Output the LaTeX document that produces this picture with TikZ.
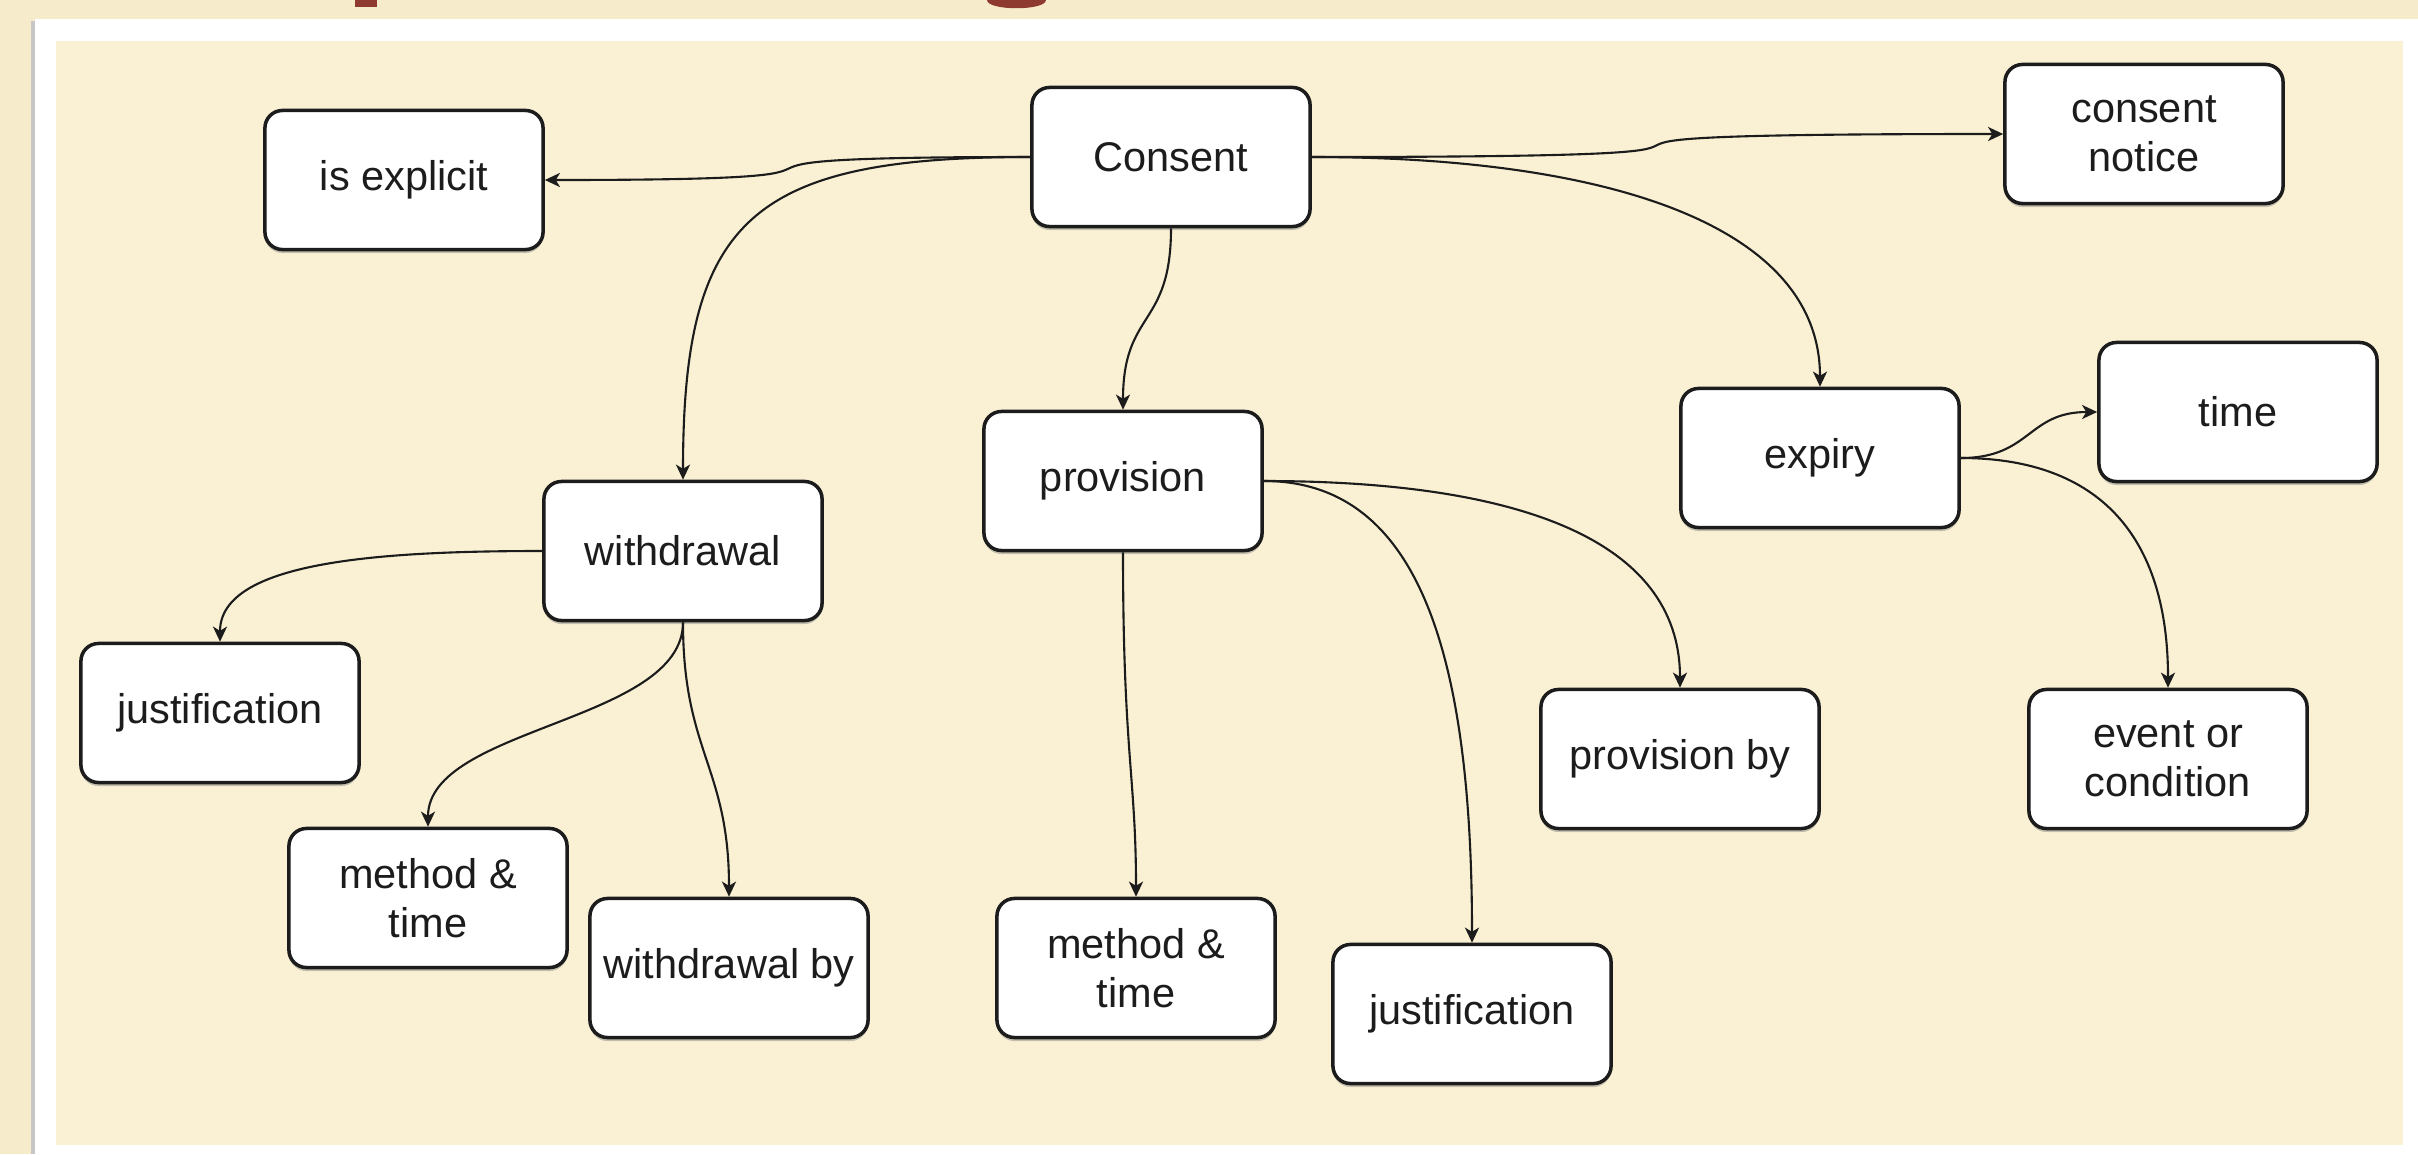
\documentclass[tikz,border=0pt]{standalone}
\usepackage{fontspec}
\setmainfont{Liberation Sans}
\usetikzlibrary{arrows.meta,shadows}
\definecolor{outerbg}{RGB}{246,235,203}
\definecolor{innerbg}{RGB}{250,241,212}
\definecolor{titlered}{RGB}{142,58,48}
\definecolor{ink}{RGB}{28,28,28}
\tikzset{
  box/.style={draw=ink, line width=1pt, rounded corners=5pt, fill=white,
    minimum width=2.78cm, minimum height=1.39cm, inner sep=0pt, align=center,
    text=ink, font=\fontsize{11.8}{13.8}\selectfont,
    drop shadow={shadow xshift=0pt, shadow yshift=-1pt, opacity=0.45}},
  conn/.style={draw=ink, line width=0.6pt,
    -{Stealth[length=4.3pt,width=4pt,inset=1.2pt]}}
}
\begin{document}
\begin{tikzpicture}[x=0.01cm,y=-0.01cm]
\useasboundingbox (0,0) rectangle (2418,1154);
% slide background and frame
\fill[outerbg] (0,0) rectangle (2418,1154);
\fill[titlered] (355,0) rectangle (377,7);
\fill[titlered] (987,0) .. controls (987,11) and (1046,11) .. (1046,0) -- cycle;
\fill[black!22] (31,21) rectangle (36,1154);
\fill[white] (35,19) rectangle (2418,1154);
\fill[innerbg] (56,41) rectangle (2403,1145);
% nodes
\node[box] (explicit) at (404,180) {is explicit};
\node[box] (consent) at (1171,157) {Consent};
\node[box] (notice) at (2144,134) {consent\\notice};
\node[box] (time) at (2238,412) {time};
\node[box] (expiry) at (1820,458) {expiry};
\node[box] (provision) at (1123,481) {provision};
\node[box] (withdrawal) at (683,551) {withdrawal};
\node[box] (justL) at (220,713) {justification};
\node[box] (provby) at (1680,759) {provision by};
\node[box] (event) at (2168,759) {event or\\condition};
\node[box] (methodL) at (428,898) {method \&\\time};
\node[box] (withdrawalby) at (729,968) {withdrawal by};
\node[box] (methodM) at (1136,968) {method \&\\time};
\node[box] (justM) at (1472,1014) {justification};
% connectors
\draw[conn] (consent.west) .. controls +(-430,0) and +(430,0) .. (explicit.east);
\draw[conn] (consent.west) .. controls +(-280,0) and +(0,-260) .. (withdrawal.north);
\draw[conn] (consent.south) .. controls +(0,100) and +(0,-100) .. (provision.north);
\draw[conn] (consent.east) .. controls +(640,0) and +(-640,0) .. (notice.west);
\draw[conn] (consent.east) .. controls +(300,0) and +(0,-160) .. (expiry.north);
\draw[conn] (provision.east) .. controls +(250,0) and +(0,-150) .. (provby.north);
\draw[conn] (provision.east) .. controls +(150,0) and +(0,-300) .. (justM.north);
\draw[conn] (provision.south) .. controls +(0,200) and +(0,-120) .. (methodM.north);
\draw[conn] (withdrawal.west) .. controls +(-164,0) and +(0,-80) .. (justL.north);
\draw[conn] (withdrawal.south) .. controls +(0,100) and +(0,-100) .. (methodL.north);
\draw[conn] (withdrawal.south) .. controls +(0,130) and +(0,-130) .. (withdrawalby.north);
\draw[conn] (expiry.east) .. controls +(70,0) and +(-70,0) .. (time.west);
\draw[conn] (expiry.east) .. controls +(130,0) and +(0,-160) .. (event.north);
\end{tikzpicture}
\end{document}
